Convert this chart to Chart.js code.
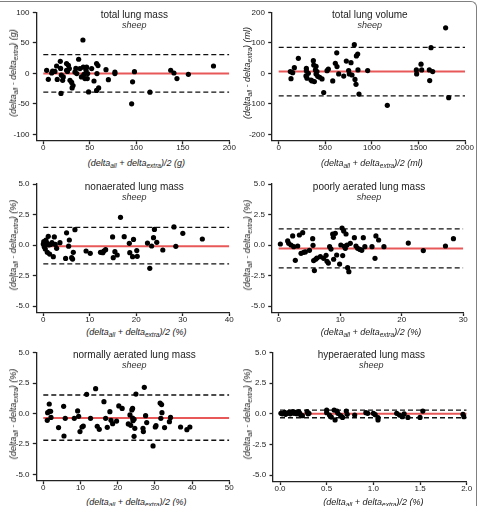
<!DOCTYPE html>
<html>
<head>
<meta charset="utf-8">
<script src="https://cdn.jsdelivr.net/npm/chart.js@4.4.0/dist/chart.umd.min.js"></script>
<style>
  body { margin: 0; background: #fff; width: 483px; height: 506px; overflow: hidden; position: relative; font-family: "Liberation Sans", Arial, sans-serif; }
  canvas { position: absolute; }
  .edge { position: absolute; z-index: 5; pointer-events: none; border-color: #808080; border-style: solid; border-width: 0; }
  .ttl { position: absolute; transform: translate(-50%, -50%); font-size: 10px; color: #222; white-space: nowrap; }
  .sp { position: absolute; transform: translate(-50%, -50%); font-size: 9px; font-style: italic; color: #333; white-space: nowrap; }
  .ax { position: absolute; transform: translate(-50%, -50%); font-size: 9px; font-style: italic; color: #222; white-space: nowrap; }
  .ax.v { transform: translate(-50%, -50%) rotate(-90deg); }
  .ax sub { font-size: 6.5px; vertical-align: -2px; line-height: 0; }
</style>
</head>
<body>
<div id="wrap"></div>
<!-- cropped figure border: top edge, rounded top-right corner, right edge -->
<div class="edge" style="left:0; top:1px; width:467px; height:0; border-top-width:1px;"></div>
<div class="edge" style="left:466px; top:1px; width:10px; height:10px; border-top-width:1px; border-right-width:1px; border-top-right-radius:6px;"></div>
<div class="edge" style="left:476px; top:11px; width:0; height:500px; border-right-width:1px;"></div>
<script>
// Bland-Altman data: x = mean of the two methods, y = difference
const massX = [3.6,5.4,9,10,12.5,14.3,15,18.3,19,18.6,19.4,20.8,21.5,25,25,26,27,28,28.7,30.5,31,32,34,35,36,38,39.4,41,42.6,43,43.7,44.8,46,46.6,47.3,48.7,47.7,52,54.5,57.3,57.7,57.3,58.8,59.5,67.4,70,77,77,95,96,98,114.7,137,140.5,143.7,156,183];
const massY = [4.9,-9.8,0.5,3.8,3,12,-10,19.7,-33,8,-3,-11.5,-6,16,5,3,13,7.7,-11.5,-15,-24,-20,2,8,-0.5,23,7.7,-6,54.6,10,-1.6,-8.7,5,10,-8.7,-30.6,-0.5,7.7,-12.6,16,-0.5,-28,12.6,-24,6,-10.4,2,-0.5,-50,-14,2.7,-31,5,0.5,-8.7,-1.6,12];
const massLoa = [-0.3, 30.5, -31];   // bias, upper, lower
const massTicksX = [0, 50, 100, 150, 200];
const massTicksY = [-100, -50, 0, 50, 100];

const volX = [125,132,150,168,211,297,297,293,304,318,347,358,372,376,383,394,401,401,411,419,440,465,483,519,533,580,608,623,626,644,698,726,751,758,776,787,812,819,830,834,848,851,862,955,1166,1478,1481,1528,1535,1617,1621,1635,1653,1792,1825];
const volY = [5.5,-17.5,2,18.6,49,8.7,16,-8.7,-16,0,-22,-25,41.5,27,-27,11,23,-2,5.5,-10,-13,-18.6,-63,8.7,14,-25,33,67,22,-2,-9,40,9,-2,35,-5.5,94,-20,-36,57,63,11,-68,9,-105,11,-2,30,11,11,-24,84,5.5,149,-80];
const volLoa = [6, 85, -74];
const volTicksX = [0, 500, 1000, 1500, 2000];
const volTicksY = [-200, -100, 0, 100, 200];

const nonX = [0,0.1,0.2,0.36,0.43,0.57,0.7,0.86,1.07,1.2,1.36,1.58,1.86,2.15,2.37,2.58,2.87,3.58,5.0,4.8,5.45,5.6,6.1,6.3,6.45,6.8,9.2,10.1,12.3,12.8,13.0,13.4,14.9,15.05,15.4,15.9,16.6,17.4,18.5,18.6,19.2,19.4,20.1,20.2,22.4,22.9,23.3,23.7,23.9,24.4,25.7,28.1,28.5,30.0,34.2];
const nonY = [0.08,0.27,-0.14,0,-0.33,0.41,0.19,-0.6,0.71,0,-0.74,0.05,0.19,-0.96,0.66,0.05,-0.27,0.19,1.0,-1.1,-0.1,0.41,-1.04,-1.15,-0.6,1.26,-0.49,-0.68,-0.6,-0.63,-0.49,-0.38,0.66,-1.04,-0.55,-0.82,2.27,0.68,0.14,-0.63,-0.96,0.46,-0.46,-0.93,0.16,-1.91,-0.08,0.6,1.28,0.22,-0.41,1.48,-0.11,0.96,0.49];
const nonLoa = [-0.1, 1.45, -1.55];
const nonTicksX = [0, 10, 20, 30, 40];

const poorX = [0.27,1.46,1.62,2.0,2.27,2.44,2.7,3.09,3.36,3.63,3.9,4.06,4.33,5.0,5.52,5.58,5.68,5.8,6.0,6.2,6.77,7.3,7.7,7.85,8.07,8.28,8.5,8.77,8.88,8.93,9.2,9.42,9.9,10.1,10.3,10.4,10.56,10.67,10.83,10.94,11.1,11.2,11.4,11.64,12.3,12.56,12.83,13.2,13.5,13.75,14.0,15.16,15.65,15.8,16.24,17.1,21.06,23.5,27.1,28.4];
const poorY = [0.08,0.33,0.14,0,0.74,-0.14,-1.26,-0.08,0.82,-0.68,1.01,-0.6,-0.57,-0.44,0.52,-0.03,-1.28,-2.1,-1.17,-1.07,-0.96,-1.09,-0.85,-1.34,-1.48,-0.14,-0.33,0.9,0.63,-1.17,0.96,-0.82,-1.56,0,1.39,-0.87,1.15,-0.11,-0.27,0.9,0,-1.86,-2.19,0.14,0.6,-0.08,-0.27,-0.36,-0.44,0.6,-0.14,-0.14,-1.09,0.74,0.41,-0.14,0.16,-0.46,-0.08,0.52];
const poorLoa = [-0.28, 1.32, -1.88];
const poorTicksX = [0, 10, 20, 30];

const normX = [1.07,1.16,1.6,1.6,1.97,2.06,4.1,5.47,5.56,5.9,8.33,9.23,9.5,9.86,10.4,10.75,11.65,12.7,14.07,14.5,15.05,16.3,16.76,17.2,17.9,18.2,18.64,19.7,20.3,21.2,22.85,23.3,23.5,23.8,24.0,24.0,24.1,24.4,24.4,24.6,24.9,26.8,26.9,27.15,27.5,27.8,30.1,30.3,29.5,31.4,31.6,31.8,31.9,32.6,33.9,34.2,36.9,38.6,39.4];
const normY = [-0.56,0.07,0.18,0.78,0.18,-0.32,-1.16,0.59,-1.85,-0.4,-0.4,0.21,-0.23,-1.49,-1.11,-1.03,1.58,-0.4,2.04,-1.05,-1.3,0.97,-0.4,-1.14,0.15,-0.56,-0.84,-0.62,0.62,0.42,-0.86,-0.12,-0.97,0.29,0.42,-0.37,-0.59,-0.48,-1.88,-1.22,1.6,-1.22,-1.49,2.15,-0.18,-0.75,-1.11,-1.0,-2.67,0.86,-0.4,0.73,0.07,-1.16,-0.67,-0.32,-1.11,-1.33,-1.11];
const normLoa = [-0.37, 1.52, -2.2];
const normTicksX = [0, 10, 20, 30, 40, 50];

const hyperX = [0.01,0.025,0.05,0.06,0.08,0.1,0.11,0.125,0.14,0.15,0.16,0.18,0.2,0.21,0.22,0.24,0.29,0.3,0.31,0.5,0.5,0.53,0.55,0.58,0.59,0.61,0.62,0.65,0.67,0.71,0.72,0.8,0.92,0.94,1.0,1.02,1.05,1.05,1.25,1.28,1.31,1.33,1.37,1.5,1.53,1.96,1.97];
const hyperY = [0.04,0,0.12,-0.04,0.04,0.15,0,0.1,0.18,0.04,0.12,0,0.18,0.07,-0.07,-0.15,0.18,0,0.04,0.31,0.1,-0.1,-0.26,0.31,-0.5,0.23,0.04,-0.15,-0.29,0.23,-0.04,-0.1,0.1,0.04,0.04,-0.07,-0.5,-0.31,0.04,-0.1,-0.23,0,-0.29,-0.29,0.23,-0.04,-0.23];
const hyperLoa = [0.0, 0.31, -0.32];
const hyperTicksX = [0, 0.5, 1, 1.5, 2];

const pctTicksY = [-5, -2.5, 0, 2.5, 5];

// panel settings (area = page pixels of the data range: left, top, right, bottom)
const panels = [
  { title: 'total lung mass', unit: 'g', xs: massX, ys: massY, loa: massLoa,
    tx: massTicksX, ty: massTicksY, dec: [0, 0], area: [43.3, 12.3, 229.3, 134.3], yt: 13.3, xt: 162.5 },
  { title: 'total lung volume', unit: 'ml', xs: volX, ys: volY, loa: volLoa,
    tx: volTicksX, ty: volTicksY, dec: [0, 0], area: [278.7, 12.3, 465, 134.3], yt: 247, xt: 162.5 },
  { title: 'nonaerated lung mass', unit: '%', xs: nonX, ys: nonY, loa: nonLoa,
    tx: nonTicksX, ty: pctTicksY, dec: [0, 1], area: [43.3, 184, 229.3, 306], yt: 13.3, xt: 331.5 },
  { title: 'poorly aerated lung mass', unit: '%', xs: poorX, ys: poorY, loa: poorLoa,
    tx: poorTicksX, ty: pctTicksY, dec: [0, 1], area: [278.7, 184, 463.3, 306], yt: 247, xt: 331.5 },
  { title: 'normally aerated lung mass', unit: '%', xs: normX, ys: normY, loa: normLoa,
    tx: normTicksX, ty: pctTicksY, dec: [0, 1], area: [43.3, 352.7, 229.3, 474.3], yt: 13.3, xt: 501.5 },
  { title: 'hyperaerated lung mass', unit: '%', xs: hyperX, ys: hyperY, loa: hyperLoa,
    tx: hyperTicksX, ty: pctTicksY, dec: [1, 1], area: [280, 352.7, 466.7, 475], yt: 247, xt: 501.5 }
];

const wrap = document.getElementById('wrap');
const YW = 30, XH = 16;
const GAPX = 7, GAPY = 6.5;   // axis lines sit a little outside the data range

function addText(cls, html, x, y) {
  const d = document.createElement('div');
  d.className = cls;
  d.innerHTML = html;
  d.style.left = x + 'px';
  d.style.top = y + 'px';
  wrap.appendChild(d);
}

const axisStyle = {
  grid: { display: true, drawOnChartArea: false, drawTicks: true, tickLength: 3.5, tickColor: '#222', tickWidth: 1.3 },
  border: { display: true, color: '#222', width: 1.3 }
};

panels.forEach(p => {
  const [x0, y0, x1, y1] = p.area;
  const left = x0 - GAPX, bottom = y1 + GAPY;
  const cl = Math.floor(left - 37), ct = Math.floor(y0 - 8);
  const cw = Math.ceil(x1 + 12) - cl, ch = Math.ceil(bottom + 14) - ct;
  const cv = document.createElement('canvas');
  cv.width = cw; cv.height = ch;
  cv.style.left = cl + 'px'; cv.style.top = ct + 'px';
  wrap.appendChild(cv);

  const xMin = p.tx[0], xMax = p.tx[p.tx.length - 1];
  const yMin = p.ty[0], yMax = p.ty[p.ty.length - 1];
  const xLow = xMin - GAPX * (xMax - xMin) / (x1 - x0);
  const yLow = yMin - GAPY * (yMax - yMin) / (y1 - y0);
  const hline = (v, color, width, dash) => ({
    data: [{ x: xMin, y: v }, { x: xMax, y: v }],
    showLine: true, borderColor: color, borderWidth: width, borderDash: dash,
    pointRadius: 0, fill: false
  });

  new Chart(cv, {
    type: 'scatter',
    data: {
      datasets: [
        { data: p.xs.map((v, i) => ({ x: v, y: p.ys[i] })), backgroundColor: '#000', borderWidth: 0, pointRadius: 2.6 },
        hline(p.loa[0], 'rgb(232, 88, 88)', 2, []),
        hline(p.loa[1], '#111', 1.3, [5, 3]),
        hline(p.loa[2], '#111', 1.3, [5, 3])
      ]
    },
    options: {
      responsive: false,
      animation: false,
      devicePixelRatio: 1,
      layout: { padding: { left: left - cl - YW, top: y0 - ct, right: cl + cw - x1, bottom: ct + ch - bottom - XH } },
      plugins: { legend: { display: false }, tooltip: { enabled: false } },
      scales: {
        x: {
          type: 'linear', min: xLow, max: xMax, ...axisStyle,
          afterBuildTicks: s => { s.ticks = p.tx.map(v => ({ value: v })); },
          afterFit: s => { s.height = XH; s.paddingLeft = 0; s.paddingRight = 0; },
          ticks: { autoSkip: false, maxRotation: 0, padding: -1.5, color: '#222',
                   font: { family: 'Liberation Sans', size: 8 }, callback: v => Number(v).toFixed(p.dec[0]) }
        },
        y: {
          type: 'linear', min: yLow, max: yMax, ...axisStyle,
          afterBuildTicks: s => { s.ticks = p.ty.map(v => ({ value: v })); },
          afterFit: s => { s.width = YW; s.paddingTop = 0; s.paddingBottom = 0; },
          ticks: { autoSkip: false, padding: 3.3, color: '#222',
                   font: { family: 'Liberation Sans', size: 8 }, callback: v => Number(v).toFixed(p.dec[1]) }
        }
      }
    }
  });

  const cx = (x0 + x1) / 2;
  addText('ttl', p.title, cx - 2, y0 + 1.7);
  addText('sp', 'sheep', cx - 2, y0 + 12.5);
  addText('ax', '(delta<sub>all</sub> + delta<sub>extra</sub>)/2 (' + p.unit + ')', cx, p.xt);
  addText('ax v', '(delta<sub>all</sub> - delta<sub>extra</sub>) (' + p.unit + ')', p.yt, (y0 + y1) / 2);
});
</script>
</body>
</html>
